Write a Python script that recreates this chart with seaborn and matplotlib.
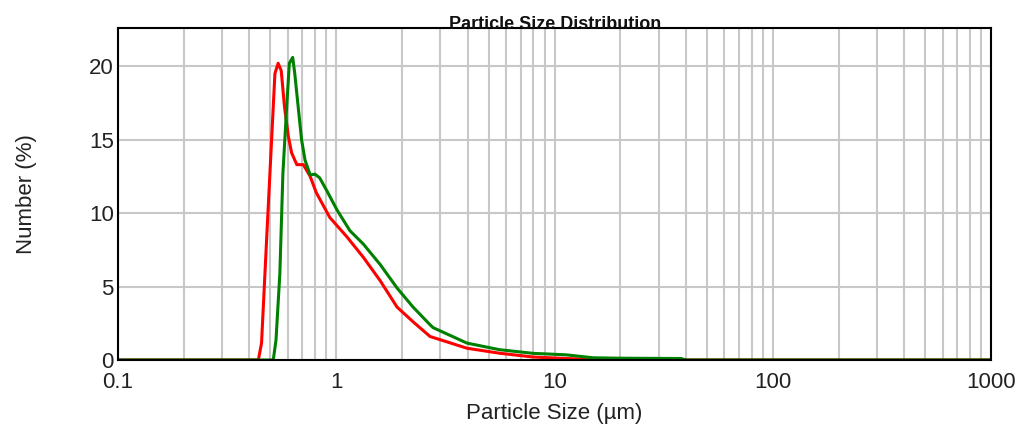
import numpy as np
import pandas as pd
import matplotlib
matplotlib.use("Agg")
import matplotlib.pyplot as plt
import seaborn as sns
from matplotlib.ticker import LogLocator, FixedLocator, FixedFormatter

# Red sample: particle size (um) and number (%)
red_size = [0.1, 0.43, 0.44, 0.455, 0.48, 0.506, 0.524, 0.542, 0.56, 0.58, 0.604,
            0.625, 0.66, 0.707, 0.76, 0.81, 0.935, 1.117, 1.33, 1.59, 1.9, 2.25,
            2.69, 3.97, 5.6, 8.0, 11.3, 14.0, 38.0, 40.0, 1000]
red_number = [0, 0, 0, 1.15, 8.2, 15.0, 19.5, 20.2, 19.7, 17.2, 15.2,
              14.1, 13.3, 13.3, 12.5, 11.4, 9.7, 8.4, 7.0, 5.4, 3.6, 2.6,
              1.6, 0.8, 0.46, 0.2, 0.1, 0.05, 0.05, 0, 0]

# Green sample
green_size = [0.1, 0.515, 0.53, 0.552, 0.57, 0.593, 0.61, 0.632, 0.646, 0.67, 0.694,
              0.72, 0.76, 0.80, 0.84, 0.90, 1.01, 1.156, 1.33, 1.59, 1.9, 2.25,
              2.69, 2.78, 3.97, 5.6, 8.0, 11.3, 15.0, 20.0, 38.0, 40.0, 1000]
green_number = [0, 0, 1.36, 5.9, 12.7, 17.2, 20.2, 20.6, 19.5, 17.2, 15.0,
                13.6, 12.6, 12.65, 12.4, 11.6, 10.2, 8.8, 7.9, 6.5, 4.9, 3.6,
                2.4, 2.2, 1.15, 0.7, 0.45, 0.35, 0.15, 0.12, 0.1, 0, 0]

x_ticks = [0.1, 1, 10, 100, 1000]
x_labels = ["0.1", "1", "10", "100", "1000"]
y_ticks = [0, 5, 10, 15, 20]

sns.set_style("whitegrid")
plt.rcParams["font.family"] = ["Liberation Sans", "DejaVu Sans"]

red_df = pd.DataFrame({"size": red_size, "number": red_number})
green_df = pd.DataFrame({"size": green_size, "number": green_number})

fig = plt.figure(figsize=(10.25, 4.25), dpi=100)
ax = fig.add_axes([0.115, 0.153, 0.852, 0.781])

sns.lineplot(data=red_df, x="size", y="number", color="#ff0000", linewidth=2.2,
             estimator=None, sort=False, ax=ax)
sns.lineplot(data=green_df, x="size", y="number", color="#008000", linewidth=2.2,
             estimator=None, sort=False, ax=ax)

ax.set_xscale("log")
ax.set_xlim(0.1, 1000)
ax.set_ylim(0, 22.6)
ax.xaxis.set_major_locator(FixedLocator(x_ticks))
ax.xaxis.set_major_formatter(FixedFormatter(x_labels))
ax.xaxis.set_minor_locator(LogLocator(base=10, subs=np.arange(2, 10)))
ax.set_yticks(y_ticks)

ax.grid(which="both", axis="x", color="#c8c8c8", linewidth=1.5)
ax.grid(which="major", axis="y", color="#c8c8c8", linewidth=1.5)
ax.set_axisbelow(True)
for s in ax.spines.values():
    s.set_color("black")
    s.set_linewidth(1.5)

ax.tick_params(which="both", length=0, labelsize=16, colors="#222222")
ax.tick_params(axis="x", pad=9)
ax.tick_params(axis="y", pad=3)
ax.set_xlabel("Particle Size (\u00b5m)", fontsize=16, color="#222222", labelpad=7)
ax.set_ylabel("Number (%)", fontsize=16, color="#222222", labelpad=37)

fig.text(0.5415, 1 - 29 / 425, "Particle Size Distribution", ha="center", va="baseline",
         fontsize=13, fontweight="bold", color="#111111")

fig.savefig("out.png", dpi=100)
